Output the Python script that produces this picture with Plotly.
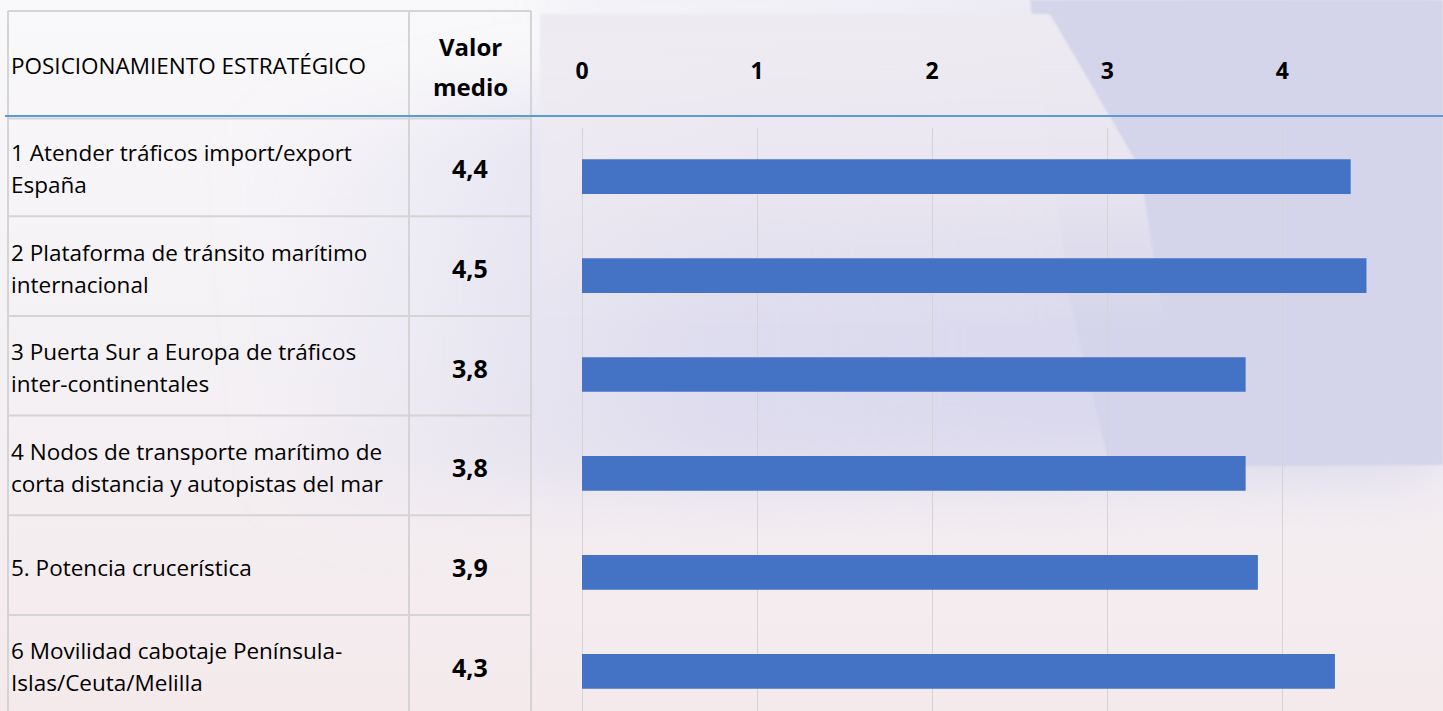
import base64
import plotly.graph_objects as go

# ---------------- data ----------------
labels = [
    "1 Atender tráficos import/export<br>España",
    "2 Plataforma de tránsito marítimo<br>internacional",
    "3 Puerta Sur a Europa de tráficos<br>inter-continentales",
    "4 Nodos de transporte marítimo de<br>corta distancia y autopistas del mar",
    "5. Potencia crucerística",
    "6 Movilidad cabotaje Península-<br>Islas/Ceuta/Melilla",
]
values = [4.39, 4.48, 3.79, 3.79, 3.86, 4.30]
header_label = "POSICIONAMIENTO ESTRATÉGICO"
header_value = ["Valor", "medio"]
x_ticks = [0, 1, 2, 3, 4]

# ---------------- geometry ----------------
W, H = 1443, 711
ML, MR, MT, MB = 582, 0, 128, 0
PW, PH = W - ML - MR, H - MT - MB
UNIT = 175.1          # px per x unit
ROW = 98.92           # px per category
TOP_OFF = 0.492       # categories above first centre at top

def px(x):
    return (x - ML) / PW

def py(y):
    return (H - MB - y) / PH

FONT = "'Open Sans', Lato, sans-serif"
GRID = "#d4d4d4"

# ---------------- background (svg) ----------------
svg = f'''<svg xmlns="http://www.w3.org/2000/svg" width="{W}" height="{H}" viewBox="0 0 {W} {H}">
<defs>
<linearGradient id="base" x1="0" y1="0" x2="0" y2="1">
<stop offset="0" stop-color="#f9f8fa"/>
<stop offset="0.5" stop-color="#f4f1f5"/>
<stop offset="1" stop-color="#f4eaec"/>
</linearGradient>
<linearGradient id="lav" x1="0" y1="0" x2="1" y2="0">
<stop offset="0" stop-color="#d6d5ec" stop-opacity="0"/>
<stop offset="0.4" stop-color="#d6d5ec" stop-opacity="0.75"/>
<stop offset="1" stop-color="#d6d5ec" stop-opacity="1"/>
</linearGradient>
<linearGradient id="pale" x1="0" y1="0" x2="0" y2="1">
<stop offset="0" stop-color="#eeeaf1" stop-opacity="1"/>
<stop offset="0.5" stop-color="#eeeaf1" stop-opacity="0.8"/>
<stop offset="1" stop-color="#eeeaf1" stop-opacity="0"/>
</linearGradient>
<filter id="blur" x="-30%" y="-30%" width="160%" height="160%"><feGaussianBlur stdDeviation="35"/></filter>
<filter id="soft" x="-5%" y="-5%" width="110%" height="110%"><feGaussianBlur stdDeviation="1.2"/></filter>
</defs>
<rect width="{W}" height="{H}" fill="url(#base)"/>
<polygon points="250,140 1443,-40 1443,470 300,500" fill="url(#lav)" filter="url(#blur)"/>
<polygon points="560,-20 1443,-20 1443,14 560,14" fill="#e2e1f1" opacity="0.8" filter="url(#blur)"/>
<polygon points="1030,0 1443,0 1443,465 1110,467 1070,300" fill="#d4d4ea" filter="url(#soft)"/>
<polygon points="540,14 1050,14 1140,168 1165,330 540,330" fill="url(#pale)" filter="url(#soft)"/>
</svg>'''
bg_src = "data:image/svg+xml;base64," + base64.b64encode(svg.encode("utf-8")).decode("ascii")

# ---------------- figure ----------------
fig = go.Figure()
fig.add_trace(go.Bar(
    x=values, y=labels, orientation="h",
    marker=dict(color="#4472c4", line=dict(width=0)),
    width=0.351, hoverinfo="skip",
))

fig.update_layout(
    width=W, height=H,
    margin=dict(l=ML, r=MR, t=MT, b=MB, pad=0),
    paper_bgcolor="#f7f4f6",
    plot_bgcolor="rgba(0,0,0,0)",
    showlegend=False,
    font=dict(family=FONT, color="#000000"),
    xaxis=dict(
        range=[0, PW / UNIT], side="top", tickvals=x_ticks,
        ticktext=[str(t) for t in x_ticks],
        tickfont=dict(family=FONT, size=23, color="#000000", weight="bold"),
        showgrid=True, gridcolor=GRID, gridwidth=1.3,
        zeroline=True, zerolinecolor=GRID, zerolinewidth=1.3,
        showline=False, ticks="", ticklabelstandoff=43, fixedrange=True,
    ),
    yaxis=dict(
        categoryorder="array", categoryarray=labels,
        range=[PH / ROW - TOP_OFF, -TOP_OFF],
        showticklabels=False, showgrid=False, zeroline=False, ticks="",
        fixedrange=True,
    ),
    images=[dict(
        source=bg_src, xref="paper", yref="paper",
        x=px(0), y=py(0), sizex=W / PW, sizey=H / PH,
        xanchor="left", yanchor="top", sizing="stretch", layer="below",
    )],
)

# ---------------- table ----------------
shapes = []
TL, TDIV, TR = 8, 409, 531
row_tops = [116.5 + 99.7 * i for i in range(len(labels))]
row_h = 99.7

def line(x0, y0, x1, y1, color=GRID, width=2):
    shapes.append(dict(type="line", xref="paper", yref="paper",
                       x0=px(x0), y0=py(y0), x1=px(x1), y1=py(y1),
                       line=dict(color=color, width=width), layer="above"))

for xv in (TL, TDIV, TR):
    line(xv, 11, xv, H + 5)
line(TL, 11, TR, 11)
line(TL, 118.5, TR, 118.5)
for rt in row_tops[1:]:
    line(TL, rt, TR, rt)
line(5, 116, W, 116, color="#5b9bd5", width=2)

annotations = []

def text(x, y, s, size, bold=False, xanchor="left"):
    annotations.append(dict(
        xref="paper", yref="paper", x=px(x), y=py(y), text=s, showarrow=False,
        xanchor=xanchor, yanchor="middle", align="left",
        font=dict(family=FONT, size=size, color="#000000",
                  weight="bold" if bold else "normal"),
    ))

text(9, 66, header_label, 22.5)
text(470, 47, header_value[0], 24, bold=True, xanchor="center")
text(470, 86, header_value[1], 24, bold=True, xanchor="center")

for i, (lab, v) in enumerate(zip(labels, values)):
    c = row_tops[i] + row_h / 2 + 2
    parts = lab.split("<br>")
    if len(parts) == 1:
        text(9, c, parts[0], 22.5)
    else:
        text(9, c - 16, parts[0], 22.5)
        text(9, c + 16, parts[1], 22.5)
    text(470, c, f"{v:.1f}".replace(".", ","), 25, bold=True, xanchor="center")

fig.update_layout(shapes=shapes, annotations=annotations)
fig.write_html(
    "out.html",
    config={"displayModeBar": False},
    post_script="document.body.style.margin='0';document.body.style.overflow='hidden';",
)
